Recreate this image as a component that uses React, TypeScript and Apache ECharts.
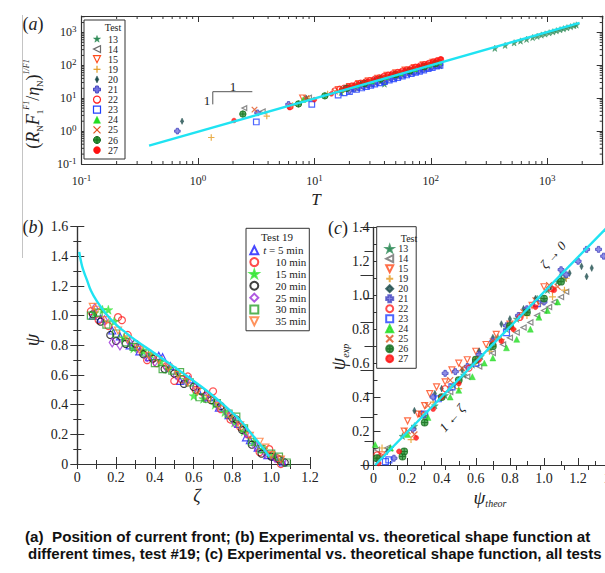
import React, { useEffect, useRef } from "react";
import * as echarts from "echarts";

const SERIF = '"Liberation Serif", "Times New Roman", Times, serif';
const SANS = '"Liberation Sans", Arial, Helvetica, sans-serif';
const CYAN = "#1fe3f2";
const AX = "#333333";
const TXT = "#222222";

// ---------- Panel (a): position of current front (log-log) ----------
const aTicks = [0.1, 1, 10, 100, 1000];
const aMult = [2, 3, 4, 5, 6, 7, 8, 9];
const a13 = [[17, 15], [22, 20], [30, 27], [40, 27], [48, 44], [58, 53], [70, 64], [85, 78], [100, 92], [120, 97],
  [355, 330], [435, 405], [520, 485], [590, 550], [665, 620], [750, 700], [820, 765], [890, 835], [960, 900],
  [1040, 975], [1120, 1050], [1200, 1130], [1290, 1215], [1380, 1300], [1480, 1395], [1590, 1500], [1700, 1610], [1780, 1690]];
const a14 = [[2.5, 5.0], [3.6, 4.0], [9, 10.5], [19, 21], [26, 29], [34, 38], [45, 50], [58, 65], [75, 84], [95, 107], [115, 128]];
const a15 = [[7.9, 10.3], [16, 18.5], [20, 23], [24, 28], [29, 34], [35, 41], [42, 50], [50, 60], [60, 72], [72, 86], [86, 104], [104, 126], [120, 140]];
const a19 = [[1.3, 0.64], [3.9, 2.85], [6.5, 6.0], [9, 9.5], [13, 13.5], [18, 19], [25, 26], [33, 35], [45, 47], [60, 62], [80, 83], [105, 109]];
const a20 = [[0.73, 2.0], [8.5, 10], [18, 20], [25, 27], [33, 36], [45, 49], [60, 65], [80, 86], [105, 113]];
const a21 = [[0.665, 1.0], [3.25, 3.6], [6, 6.5], [20, 17], [22, 19], [24, 20.5], [26.5, 22.5], [29, 25], [32, 27.5], [35, 30], [38.5, 33], [42, 36], [46, 39.5], [50, 43], [55, 47.5], [60, 52], [66, 57], [72, 62], [79, 68.5], [86, 75], [94, 82], [102, 89], [111, 97], [120, 105]];
const a22 = [[6.2, 5.5], [15, 17], [16.5, 19], [18, 20.5], [19.5, 22.5], [21, 24], [23, 26.5], [25, 29], [27.5, 32], [30, 35], [33, 38.5], [36, 42], [39.5, 46.5], [43, 51], [47, 55.5], [52, 62], [57, 68], [62, 74], [68, 81], [74, 89], [81, 97], [88, 106], [96, 116], [105, 128], [113, 138], [122, 150]];
const a23 = [[3.17, 1.9], [9.5, 6.5], [16, 12.5], [18, 14.5], [20, 16], [23, 18.5], [25.5, 20.5], [28, 22.5], [30.5, 24.5], [33, 27], [36.5, 29.5], [40, 32], [44, 35.5], [48, 39], [52, 42.5], [57, 47], [62, 51], [68, 56], [74, 61], [80, 66], [87, 72], [95, 79], [103, 86], [112, 94], [120, 100]];
const a24 = [[8, 9], [17, 18.5], [23, 25], [31, 33], [41, 44], [55, 59], [73, 78], [97, 104], [118, 126]];
const a25 = [[3.06, 4.5], [8.5, 10], [15, 16], [21, 23], [28, 31], [38, 42], [50, 55], [66, 73], [88, 97], [112, 124]];
const a26 = [[2.43, 3.3], [7.3, 6.7], [12.3, 11.8], [19, 20], [27, 28], [37, 38], [50, 52], [66, 68], [88, 91], [110, 113]];
const a27 = [[2.04, 2.1], [6.1, 5.2], [10, 9], [14, 13.5], [17, 18], [18.5, 20], [20, 22], [22, 24.5], [24, 27], [26.5, 30], [29, 33], [32, 36.5], [35, 40], [38.5, 44.5], [42, 49], [46, 54], [50, 59], [55, 65], [60, 71], [66, 78], [72, 86], [79, 94], [86, 103], [94, 113], [103, 125], [112, 138], [122, 155]];
const aFit = [[0.38, 0.36], [1900, 1950]];
const aSlope = [[1.34, 6.5], [1.34, 15.8], [2.93, 15.8]];

// ---------- Panel (b): test 19 at different times ----------
const bNames = ["t = 5 min", "10 min", "15 min", "20 min", "25 min", "30 min", "35 min"];
const b5 = [[0.08, 1.0], [0.12, 0.98], [0.18, 0.9], [0.22, 0.86], [0.27, 0.8], [0.32, 0.76], [0.37, 0.72], [0.42, 0.73], [0.44, 0.72], [0.48, 0.66], [0.53, 0.56], [0.58, 0.57], [0.62, 0.5], [0.68, 0.45], [0.73, 0.38], [0.78, 0.33], [0.83, 0.27], [0.87, 0.18], [0.89, 0.16], [0.93, 0.11], [0.98, 0.06], [1.02, 0.05], [1.06, 0.01]];
const b10 = [[0.07, 1.03], [0.11, 0.97], [0.16, 0.93], [0.21, 0.99], [0.23, 0.97], [0.26, 0.87], [0.31, 0.79], [0.36, 0.7], [0.41, 0.68], [0.46, 0.66], [0.5, 0.56], [0.54, 0.57], [0.57, 0.59], [0.61, 0.5], [0.66, 0.46], [0.7, 0.49], [0.74, 0.37], [0.79, 0.3], [0.84, 0.25], [0.88, 0.2], [0.94, 0.08], [0.99, 0.1], [1.03, 0.04], [1.05, 0.0]];
const b15 = [[0.09, 1.02], [0.13, 1.04], [0.16, 1.04], [0.19, 0.96], [0.24, 0.85], [0.29, 0.78], [0.34, 0.76], [0.38, 0.74], [0.43, 0.69], [0.47, 0.64], [0.52, 0.61], [0.56, 0.57], [0.6, 0.46], [0.65, 0.44], [0.71, 0.4], [0.76, 0.35], [0.81, 0.28], [0.86, 0.22], [0.91, 0.15], [0.96, 0.1], [1.01, 0.06], [1.05, 0.03]];
const b20 = [[0.08, 1.01], [0.12, 0.96], [0.17, 0.87], [0.2, 0.83], [0.25, 0.81], [0.3, 0.81], [0.34, 0.74], [0.39, 0.71], [0.45, 0.64], [0.5, 0.61], [0.55, 0.54], [0.6, 0.52], [0.64, 0.49], [0.69, 0.43], [0.74, 0.39], [0.8, 0.31], [0.82, 0.3], [0.85, 0.23], [0.9, 0.13], [0.95, 0.07], [1.0, 0.05], [1.04, 0.03], [1.07, 0.01]];
const b25 = [[0.09, 1.05], [0.14, 0.97], [0.18, 0.82], [0.22, 0.8], [0.27, 0.82], [0.31, 0.78], [0.36, 0.72], [0.4, 0.69], [0.46, 0.65], [0.51, 0.6], [0.56, 0.56], [0.61, 0.52], [0.66, 0.45], [0.72, 0.4], [0.77, 0.35], [0.81, 0.28], [0.87, 0.21], [0.92, 0.12], [0.97, 0.07], [1.02, 0.04], [1.06, 0.02]];
const b30 = [[0.07, 1.0], [0.11, 1.02], [0.15, 0.94], [0.2, 0.88], [0.25, 0.82], [0.29, 0.79], [0.35, 0.75], [0.4, 0.68], [0.44, 0.64], [0.49, 0.63], [0.53, 0.62], [0.58, 0.55], [0.63, 0.45], [0.67, 0.44], [0.72, 0.41], [0.78, 0.34], [0.82, 0.32], [0.86, 0.24], [0.9, 0.15], [0.95, 0.1], [1.0, 0.07], [1.04, 0.05], [1.08, 0.01]];
const b35 = [[0.08, 1.06], [0.1, 1.04], [0.15, 0.97], [0.21, 0.9], [0.26, 0.84], [0.32, 0.77], [0.37, 0.73], [0.42, 0.7], [0.47, 0.65], [0.52, 0.6], [0.57, 0.55], [0.62, 0.49], [0.68, 0.44], [0.73, 0.39], [0.79, 0.32], [0.84, 0.26], [0.89, 0.19], [0.94, 0.15], [0.97, 0.11], [1.0, 0.06], [1.05, 0.03]];
const bFitZeta = [0.01, 0.02, 0.03, 0.05, 0.07, 0.1, 0.15, 0.2, 0.25, 0.3, 0.4, 0.5, 0.6, 0.7, 0.8, 0.85, 0.9, 0.95, 0.99];
const bFitPsi = [1.43, 1.36, 1.31, 1.24, 1.17, 1.1, 1.01, 0.94, 0.885, 0.835, 0.745, 0.655, 0.56, 0.46, 0.345, 0.28, 0.2, 0.12, 0.05];

// ---------- Panel (c): experimental vs theoretical, all tests ----------
const c13 = [[0.04, 0.05], [0.1, 0.1], [0.17, 0.17], [0.24, 0.23], [0.3, 0.29], [0.36, 0.35], [0.42, 0.41], [0.47, 0.47], [0.53, 0.53], [0.58, 0.59], [0.63, 0.64], [0.68, 0.69], [0.73, 0.75], [0.78, 0.8], [0.84, 0.86], [0.9, 0.91], [0.96, 0.98], [1.02, 1.03], [1.08, 1.08], [1.12, 1.1]];
const c14 = [[0.02, 0.09], [0.08, 0.1], [0.3, 0.28], [0.45, 0.43], [0.55, 0.52], [0.62, 0.58], [0.7, 0.66], [0.76, 0.71], [0.8, 0.75], [0.84, 0.78], [0.88, 0.81], [0.92, 0.84], [0.96, 0.88], [1.0, 0.91], [1.03, 0.93], [1.06, 0.96], [1.1, 0.99], [1.13, 1.02]];
const c15 = [[0.05, 0.06], [0.18, 0.2], [0.2, 0.26], [0.26, 0.3], [0.3, 0.35], [0.33, 0.42], [0.37, 0.46], [0.42, 0.49], [0.46, 0.56], [0.5, 0.6], [0.55, 0.62], [0.6, 0.67], [0.66, 0.71], [0.72, 0.77], [0.8, 0.83], [0.87, 0.88], [0.93, 0.94], [1.0, 1.05], [1.05, 1.03]];
const c19 = [[0.05, 0.1], [0.22, 0.15], [0.35, 0.37], [0.45, 0.46], [0.5, 0.45], [0.6, 0.6], [0.68, 0.67], [0.75, 0.74], [0.82, 0.8], [0.9, 0.88], [0.98, 0.95], [1.05, 0.99], [1.12, 1.03], [1.13, 1.1]];
const c20 = [[0.02, 0.03], [0.08, 0.08], [0.24, 0.32], [0.36, 0.42], [0.4, 0.45], [0.52, 0.56], [0.62, 0.67], [0.7, 0.75], [0.75, 0.83], [0.8, 0.86], [0.88, 0.92], [0.95, 0.98], [1.04, 1.05], [1.1, 1.12], [1.15, 1.13], [1.22, 1.17], [1.25, 1.11], [1.28, 1.16]];
const c21 = [[0.12, 0.04], [0.23, 0.21], [0.35, 0.4], [0.42, 0.54], [0.48, 0.55], [0.55, 0.58], [0.62, 0.65], [0.7, 0.73], [0.78, 0.82], [0.85, 0.88], [0.9, 0.92], [1.0, 0.96], [1.1, 1.15], [1.13, 1.12], [1.2, 1.2], [1.25, 1.27], [1.32, 1.27], [1.35, 1.23]];
const c22 = [[0.02, 0.06], [0.04, 0.05], [0.28, 0.3], [0.42, 0.45], [0.56, 0.57], [0.7, 0.71], [0.86, 0.87], [0.95, 0.95], [1.04, 1.04]];
const c23 = [[0.09, 0.03], [0.07, 0.02], [0.3, 0.3], [0.38, 0.39], [0.46, 0.46], [0.6, 0.6], [0.78, 0.78], [0.96, 0.95]];
const c24 = [[0.01, 0.12], [0.1, 0.1], [0.2, 0.18], [0.32, 0.28], [0.45, 0.4], [0.5, 0.44], [0.58, 0.52], [0.65, 0.6], [0.7, 0.63], [0.78, 0.69], [0.84, 0.74], [0.92, 0.8], [0.97, 0.87], [1.02, 0.91], [1.08, 0.96]];
const c25 = [[0.2, 0.2], [0.24, 0.18], [0.28, 0.3], [0.32, 0.35], [0.45, 0.5], [0.52, 0.57], [0.6, 0.62], [0.7, 0.73], [0.8, 0.82], [0.88, 0.9], [0.95, 0.97], [1.03, 1.06], [1.08, 1.05]];
const c26 = [[0.02, 0.04], [0.17, 0.05], [0.18, 0.08], [0.3, 0.25], [0.4, 0.4], [0.5, 0.5], [0.6, 0.62], [0.7, 0.7], [0.8, 0.82], [0.9, 0.9], [1.0, 0.98], [1.1, 1.08]];
const c27 = [[0.03, 0.01], [0.15, 0.08], [0.25, 0.16], [0.35, 0.33], [0.4, 0.4], [0.5, 0.48], [0.62, 0.62], [0.75, 0.73], [0.82, 0.8], [0.95, 0.93], [1.06, 1.03]];
const cFit = [[0.01, 0.0], [1.37, 1.4]];

const testNames = ["13", "14", "15", "19", "20", "21", "22", "23", "24", "25", "26", "27"];
const aSets = [a13, a14, a15, a19, a20, a21, a22, a23, a24, a25, a26, a27];
const cSets = [c13, c14, c15, c19, c20, c21, c22, c23, c24, c25, c26, c27];
const bSets = [b5, b10, b15, b20, b25, b30, b35];

// ---------- symbols (same outlines used for series symbols and the drawn legend of panel a) ----------
const STAR_P = [[5, 0], [6.2, 3.6], [10, 3.6], [6.9, 5.9], [8.1, 9.5], [5, 7.3], [1.9, 9.5], [3.1, 5.9], [0, 3.6], [3.8, 3.6]];
const LTRI_P = [[10, 0], [10, 10], [0, 5]];
const DTRI_P = [[0, 0], [10, 0], [5, 10]];
const UTRI_P = [[5, 0], [10, 10], [0, 10]];
const DIAM_P = [[5, 0], [10, 5], [5, 10], [0, 5]];
const FATX_P = [[3, 0], [7, 0], [7, 3], [10, 3], [10, 7], [7, 7], [7, 10], [3, 10], [3, 7], [0, 7], [0, 3], [3, 3]];
const polyPath = (p: number[][]) => "path://" + p.map((q, i) => (i ? "L" : "M") + q[0] + "," + q[1]).join(" ") + " Z";
const STAR = polyPath(STAR_P);
const LTRI = polyPath(LTRI_P);
const DTRI = polyPath(DTRI_P);
const PLUS = "path://M5,0 L5,10 M0,5 L10,5";
const XS = "path://M0,0 L10,10 M10,0 L0,10";
const FATX = polyPath(FATX_P);
const CPLUS = "path://M0,5 A5,5 0 1 1 10,5 A5,5 0 1 1 0,5 Z M5,0 L5,10 M0,5 L10,5";

type St = { symbol: string; color: string; filled: boolean; size: any; border?: string; glyph: string };
const testStyles: St[] = [
  { symbol: STAR, color: "#2e8b57", filled: true, size: 8, glyph: "star" },
  { symbol: LTRI, color: "#6e6e6e", filled: false, size: 6, glyph: "ltri" },
  { symbol: DTRI, color: "#ff4a1a", filled: false, size: 7, glyph: "dtri" },
  { symbol: PLUS, color: "#e39a1e", filled: false, size: 8, glyph: "plus" },
  { symbol: "diamond", color: "#1e4d4d", filled: true, size: [4, 8], glyph: "thindiam" },
  { symbol: FATX, color: "#7272e0", filled: true, size: 7, border: "#4848c0", glyph: "fatx" },
  { symbol: "circle", color: "#ff2020", filled: false, size: 7, glyph: "circle" },
  { symbol: "rect", color: "#2040ff", filled: false, size: 7, glyph: "rect" },
  { symbol: "triangle", color: "#22dd22", filled: true, size: 7, glyph: "utri" },
  { symbol: XS, color: "#e0501e", filled: false, size: 7, glyph: "x" },
  { symbol: CPLUS, color: "#2e9a3a", filled: true, size: 8, border: "#176b1f", glyph: "cplus" },
  { symbol: "circle", color: "#ff1010", filled: true, size: 6, glyph: "circle" },
];
const bStyles: St[] = [
  { symbol: "triangle", color: "#1a1aff", filled: false, size: 7, glyph: "utri" },
  { symbol: "circle", color: "#ff2020", filled: false, size: 7, glyph: "circle" },
  { symbol: STAR, color: "#33e633", filled: true, size: 9, glyph: "star" },
  { symbol: "circle", color: "#111111", filled: false, size: 7, glyph: "circle" },
  { symbol: "diamond", color: "#9b30d9", filled: false, size: [6, 9], glyph: "diam" },
  { symbol: "rect", color: "#2ca02c", filled: false, size: 7, glyph: "rect" },
  { symbol: DTRI, color: "#ff7733", filled: false, size: 7, glyph: "dtri" },
];

function scatter(name: string, data: number[][], st: St, xi: number, yi: number, scale = 1) {
  const size = Array.isArray(st.size) ? st.size.map((s: number) => s * scale) : st.size * scale;
  return {
    type: "scatter",
    name,
    data,
    xAxisIndex: xi,
    yAxisIndex: yi,
    symbol: st.symbol,
    symbolSize: size,
    itemStyle: st.filled
      ? { color: st.color, borderColor: st.border || st.color, borderWidth: st.border ? 1 : 0.5 }
      : { color: "rgba(255,255,255,0)", borderColor: st.color, borderWidth: 1.2 },
    emphasis: { disabled: true },
    z: 3,
  };
}

// legend glyph drawn with graphic primitives, centred on (cx, cy), size s
function glyph(st: St, cx: number, cy: number, s: number): any {
  const fill = st.filled ? st.color : "rgba(255,255,255,0)";
  const stroke = st.border || st.color;
  const lw = st.filled ? (st.border ? 1 : 0.5) : 1.2;
  const tr = (p: number[][], sx = 1) => p.map((q) => [cx + ((q[0] - 5) * s * sx) / 10, cy + ((q[1] - 5) * s) / 10]);
  const poly = (p: number[][], sx = 1) => ({ type: "polygon", silent: true, shape: { points: tr(p, sx) }, style: { fill, stroke, lineWidth: lw }, z: 110 });
  const ln = (x1: number, y1: number, x2: number, y2: number) => ({ type: "line", silent: true, shape: { x1, y1, x2, y2 }, style: { stroke, lineWidth: lw }, z: 110 });
  const h = s / 2;
  switch (st.glyph) {
    case "star": return poly(STAR_P);
    case "ltri": return poly(LTRI_P);
    case "dtri": return poly(DTRI_P);
    case "utri": return poly(UTRI_P);
    case "diam": return poly(DIAM_P, 0.7);
    case "thindiam": return poly(DIAM_P, 0.5);
    case "fatx": return poly(FATX_P);
    case "plus": return { type: "group", children: [ln(cx - h, cy, cx + h, cy), ln(cx, cy - h, cx, cy + h)] };
    case "x": return { type: "group", children: [ln(cx - h, cy - h, cx + h, cy + h), ln(cx + h, cy - h, cx - h, cy + h)] };
    case "rect": return { type: "rect", silent: true, shape: { x: cx - h, y: cy - h, width: s, height: s }, style: { fill, stroke, lineWidth: lw }, z: 110 };
    case "cplus": return { type: "group", children: [
      { type: "circle", silent: true, shape: { cx, cy, r: h }, style: { fill, stroke, lineWidth: lw }, z: 110 },
      ln(cx - h, cy, cx + h, cy), ln(cx, cy - h, cx, cy + h)] };
    default: return { type: "circle", silent: true, shape: { cx, cy, r: h }, style: { fill, stroke, lineWidth: lw }, z: 110 };
  }
}

const powRich = {
  b: { fontFamily: SERIF, fontSize: 12, lineHeight: 16, color: TXT },
  s: { fontFamily: SERIF, fontSize: 9, lineHeight: 9, verticalAlign: "top", color: TXT },
};
function fmtPow(v: number) {
  const l = Math.log10(v);
  const n = Math.round(l);
  if (Math.abs(l - n) > 0.01) return "";
  return `{b|10}{s|${n}}`;
}
function fmtLin(v: number) {
  if (Math.abs(v) < 1e-9) return "0";
  return v.toFixed(1);
}

const lineAx = { show: true, lineStyle: { color: AX, width: 1.2 } };

function logAxis(gridIndex: number, position: string, labels: boolean, extra: any = {}) {
  return {
    type: "log",
    logBase: 10,
    gridIndex,
    position,
    min: 0.1,
    max: position === "left" || position === "right" ? 3162 : 3000,
    axisLine: lineAx,
    axisTick: { show: true, inside: true, length: 6, lineStyle: { color: AX, width: 1 } },
    minorTick: { show: false },
    splitLine: { show: false },
    axisLabel: labels ? { show: true, formatter: fmtPow, rich: powRich, showMinLabel: true, hideOverlap: false, ...extra } : { show: false },
  };
}

function linAxis(gridIndex: number, position: string, min: number, max: number, interval: number, labels: boolean, minor: boolean, labelExtra: any = {}, tickLen = 7, minorLen = 4) {
  return {
    type: "value",
    gridIndex,
    position,
    min,
    max,
    interval,
    axisLine: lineAx,
    axisTick: { show: true, inside: true, length: minor ? tickLen : 5, lineStyle: { color: AX, width: 1 } },
    minorTick: minor ? { show: true, splitNumber: 2, length: minorLen, lineStyle: { color: AX, width: 1 } } : { show: false },
    splitLine: { show: false },
    minorSplitLine: { show: false },
    axisLabel: labels
      ? { show: true, formatter: fmtLin, fontFamily: SERIF, fontSize: 14, color: TXT, showMinLabel: true, showMaxLabel: true, hideOverlap: false, ...labelExtra }
      : { show: false },
  };
}

function minorTickSeries(values: number[], horizontal: boolean) {
  return {
    type: "custom",
    xAxisIndex: 0,
    yAxisIndex: 0,
    silent: true,
    data: values.map((v) => (horizontal ? [v, 1] : [1, v])),
    renderItem: (params: any, api: any) => {
      const cs = params.coordSys;
      const L = 3;
      const style = { stroke: AX, lineWidth: 1 };
      if (horizontal) {
        const x = api.coord([api.value(0), 1])[0];
        return {
          type: "group",
          children: [
            { type: "line", shape: { x1: x, y1: cs.y + cs.height, x2: x, y2: cs.y + cs.height - L }, style },
            { type: "line", shape: { x1: x, y1: cs.y, x2: x, y2: cs.y + L }, style },
          ],
        };
      }
      const y = api.coord([1, api.value(1)])[1];
      return {
        type: "group",
        children: [
          { type: "line", shape: { x1: cs.x, y1: y, x2: cs.x + L, y2: y }, style },
          { type: "line", shape: { x1: cs.x + cs.width, y1: y, x2: cs.x + cs.width - L, y2: y }, style },
        ],
      };
    },
    z: 5,
  };
}

function txt(x: number, y: number, text: string, opt: any = {}) {
  const { rotation, scaleX, z, ...style } = opt;
  return {
    type: "text",
    x,
    y,
    z: z || 100,
    rotation: rotation || 0,
    scaleX: scaleX || 1,
    silent: true,
    style: { text, fill: TXT, align: "center", verticalAlign: "middle", fontFamily: SERIF, fontSize: 14, ...style },
  };
}

const panelRich = {
  n: { fontFamily: SERIF, fontSize: 18, color: TXT },
  i: { fontFamily: SERIF, fontSize: 18, fontStyle: "italic", color: TXT },
};

export default function App() {
  const ref = useRef<HTMLDivElement>(null);
  useEffect(() => {
    if (!ref.current) return;
    const chart = echarts.init(ref.current, undefined, { renderer: "svg" });

    const minorX = aTicks.flatMap((d) => aMult.map((m) => d * m)).filter((v) => v < 3000.5);
    const minorY = aTicks.flatMap((d) => aMult.map((m) => d * m)).filter((v) => v < 3162);

    const series: any[] = [];
    testNames.forEach((n, i) => series.push(scatter(n, aSets[i], testStyles[i], 0, 0, 0.8)));
    series.push({ type: "line", data: aFit, xAxisIndex: 0, yAxisIndex: 0, showSymbol: false, symbol: "none", lineStyle: { color: CYAN, width: 2.4 }, z: 4, silent: true });
    series.push({ type: "line", data: aSlope, xAxisIndex: 0, yAxisIndex: 0, showSymbol: false, symbol: "none", lineStyle: { color: "#555", width: 1 }, z: 4, silent: true });
    series.push(minorTickSeries(minorX, true));
    series.push(minorTickSeries(minorY, false));

    bNames.forEach((n, i) => series.push(scatter(n, bSets[i], bStyles[i], 2, 2)));
    series.push({ type: "line", data: bFitZeta.map((z, i) => [z, bFitPsi[i]]), xAxisIndex: 2, yAxisIndex: 2, smooth: true, showSymbol: false, symbol: "none", lineStyle: { color: CYAN, width: 2.4 }, z: 4, silent: true });

    testNames.forEach((n, i) => series.push(scatter(n, cSets[i], testStyles[i], 4, 4, 0.85)));
    series.push({ type: "line", data: cFit, xAxisIndex: 4, yAxisIndex: 4, showSymbol: false, symbol: "none", lineStyle: { color: CYAN, width: 2.4 }, z: 4, silent: true });

    // drawn legend for panel (a)
    const legA: any[] = [
      { type: "rect", silent: true, z: 100, shape: { x: 84, y: 20, width: 41, height: 139 }, style: { fill: "#fff", stroke: AX, lineWidth: 1 } },
      txt(113, 27.5, "Test", { fontSize: 10 }),
    ];
    testNames.forEach((n, i) => {
      const y = 39 + 10.1 * i;
      legA.push(glyph(testStyles[i], 97, y, 7));
      legA.push(txt(113, y, n, { fontSize: 10 }));
    });

    const legendBase = {
      orient: "vertical",
      selectedMode: false,
      borderColor: AX,
      borderWidth: 1,
      backgroundColor: "#fff",
      itemWidth: 7,
      itemHeight: 7,
      itemGap: 0,
    };

    const option: any = {
      animation: false,
      backgroundColor: "#ffffff",
      grid: [
        { left: 81.6, top: 16, width: 521.1, height: 148, containLabel: false, outerBoundsMode: "none" },
        { left: 77.3, top: 226.7, width: 232.7, height: 237.3, containLabel: false, outerBoundsMode: "none" },
        { left: 373.5, top: 227.3, width: 238.7, height: 237.7, containLabel: false, outerBoundsMode: "none" },
      ],
      xAxis: [
        logAxis(0, "bottom", true, { margin: 9 }),
        logAxis(0, "top", false),
        linAxis(1, "bottom", 0, 1.2, 0.2, true, true, { margin: 6 }),
        linAxis(1, "top", 0, 1.2, 0.1, false, false),
        linAxis(2, "bottom", 0, 1.4, 0.2, true, true, { margin: 6 }),
        linAxis(2, "top", 0, 1.0, 0.1, false, false),
      ],
      yAxis: [
        logAxis(0, "left", true, { margin: 5 }),
        logAxis(0, "right", false),
        linAxis(1, "left", 0, 1.6, 0.2, true, true, { margin: 9 }),
        linAxis(1, "right", 0, 1.6, 0.2, false, true),
        linAxis(2, "left", 0, 1.4, 0.2, true, true, { margin: 4 }),
        linAxis(2, "right", 0, 1.0, 0.2, false, true, {}, 13, 9),
      ],
      legend: [
        {
          ...legendBase,
          left: 246,
          top: 228.3,
          padding: [16, 3, 3.5, 3.3],
          itemWidth: 8,
          itemHeight: 8,
          data: bNames,
          formatter: (name: string) => (name.startsWith("t = ") ? `{it|t}{n|${name.slice(1)}}` : `{r|${name}}`),
          textStyle: {
            fontFamily: SERIF,
            fontSize: 11,
            lineHeight: 11.85,
            color: TXT,
            rich: {
              it: { fontFamily: SERIF, fontSize: 11, lineHeight: 11.85, fontStyle: "italic", color: TXT },
              n: { fontFamily: SERIF, fontSize: 11, lineHeight: 11.85, color: TXT },
              r: { fontFamily: SERIF, fontSize: 11, lineHeight: 11.85, color: TXT, width: 43, align: "right" },
            },
          },
        },
        {
          ...legendBase,
          left: 376.7,
          top: 226.7,
          padding: [17, 8, 4.6, 8.5],
          data: testNames,
          textStyle: { fontFamily: SERIF, fontSize: 10, lineHeight: 10, color: TXT },
        },
      ],
      series,
      graphic: [
        { type: "line", silent: true, shape: { x1: 22.5, y1: 15, x2: 22.5, y2: 258 }, style: { stroke: "#c4c4c4", lineWidth: 1 } },
        ...legA,
        // panel labels
        txt(33, 24, "{n|(}{i|a}{n|)}", { rich: panelRich }),
        txt(33, 227, "{n|(}{i|b}{n|)}", { rich: panelRich }),
        txt(338, 228, "{n|(}{i|c}{n|)}", { rich: panelRich }),
        // (a) axis titles
        txt(33, 104, "{n|(}{i|R}{b|N}{i|F}{b|1}{t|F1}{n|/}{i|η}{b|N}{n|)}{t|1/F1}", {
          rotation: Math.PI / 2,
          rich: {
            n: { fontFamily: SERIF, fontSize: 18, lineHeight: 22, color: TXT },
            i: { fontFamily: SERIF, fontSize: 18, lineHeight: 22, fontStyle: "italic", color: TXT },
            b: { fontFamily: SERIF, fontSize: 9, lineHeight: 10, verticalAlign: "bottom", color: TXT },
            t: { fontFamily: SERIF, fontSize: 8, lineHeight: 8, verticalAlign: "top", fontStyle: "italic", color: TXT },
          },
        }),
        txt(316, 199, "T", { fontSize: 17, fontStyle: "italic" }),
        // slope triangle labels
        txt(207, 100, "1", { fontSize: 13 }),
        txt(233, 86, "1", { fontSize: 13 }),
        // (b)
        txt(32, 340, "ψ", { fontSize: 20, fontStyle: "italic", rotation: Math.PI / 2 }),
        txt(197, 496, "ζ", { fontSize: 18, fontStyle: "italic" }),
        txt(277, 237, "Test 19", { fontSize: 11 }),
        // (c)
        txt(338, 357, "{i|ψ}{s|exp}", {
          rotation: Math.PI / 2,
          rich: {
            i: { fontFamily: SERIF, fontSize: 20, lineHeight: 24, fontStyle: "italic", color: TXT },
            s: { fontFamily: SERIF, fontSize: 10, lineHeight: 11, verticalAlign: "bottom", fontStyle: "italic", color: TXT },
          },
        }),
        txt(490, 497, "{i|ψ}{s|theor}", {
          rich: {
            i: { fontFamily: SERIF, fontSize: 19, lineHeight: 22, fontStyle: "italic", color: TXT },
            s: { fontFamily: SERIF, fontSize: 10, lineHeight: 10, verticalAlign: "bottom", fontStyle: "italic", color: TXT },
          },
        }),
        txt(409, 238, "Test", { fontSize: 10, z: 120 }),
        txt(553, 255, "ζ → 0", { fontSize: 13, fontStyle: "italic", rotation: 0.85 }),
        txt(452, 418, "1 ← ζ", { fontSize: 13, fontStyle: "italic", rotation: 0.85 }),
        // caption
        txt(25, 536, "(a)  Position of current front; (b) Experimental vs. theoretical shape function at", { align: "left", fontFamily: SANS, fontWeight: "bold", fontSize: 15.2, fill: "#111" }),
        txt(28, 553, "different times, test #19; (c) Experimental vs. theoretical shape function, all tests", { align: "left", fontFamily: SANS, fontWeight: "bold", fontSize: 15, fill: "#111" }),
      ],
    };
    chart.setOption(option);
    return () => chart.dispose();
  }, []);
  return <div ref={ref} style={{ position: "fixed", left: 0, top: 0, width: 605, height: 573, background: "#fff" }} />;
}
